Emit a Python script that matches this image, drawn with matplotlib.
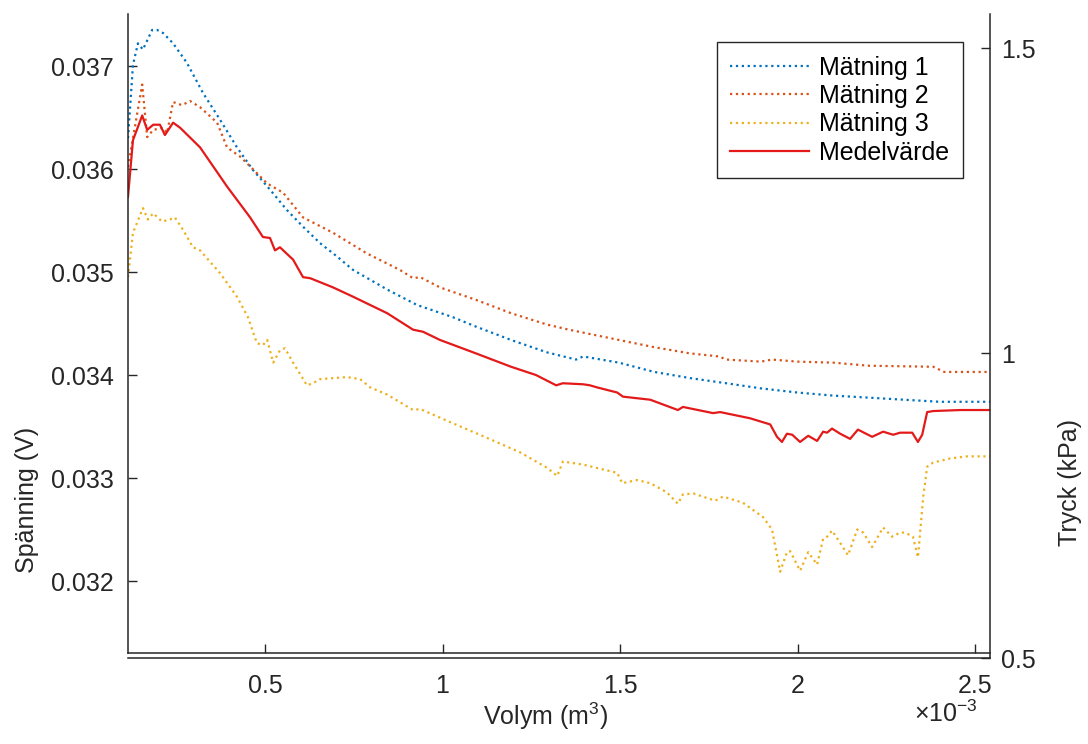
import numpy as np
import matplotlib
matplotlib.use('Agg')
import matplotlib.pyplot as plt

plt.rcParams['font.family'] = ['Liberation Sans', 'DejaVu Sans']
plt.rcParams['mathtext.fontset'] = 'custom'
plt.rcParams['mathtext.rm'] = 'Liberation Sans'
plt.rcParams['mathtext.it'] = 'Liberation Sans:italic'
plt.rcParams['mathtext.bf'] = 'Liberation Sans:bold'

# ---------------- data (volume in 1e-3 m^3, voltage in mV) ----------------
vol_1 = [0.114, 0.128, 0.142, 0.156, 0.182, 0.196, 0.213, 0.241, 0.280, 0.325,
         0.373, 0.421, 0.466, 0.514, 0.562, 0.607, 0.655, 0.703, 0.748, 0.844,
         0.928, 0.945, 1.030, 1.094, 1.193, 1.294, 1.376, 1.396, 1.497, 1.596,
         1.697, 1.799, 1.897, 1.999, 2.100, 2.201, 2.300, 2.401, 2.542]
span_1 = [36.30, 37.01, 37.22, 37.16, 37.35, 37.35, 37.32, 37.22, 37.03, 36.74,
          36.48, 36.21, 35.99, 35.80, 35.60, 35.44, 35.28, 35.15, 35.02, 34.83,
          34.68, 34.66, 34.56, 34.47, 34.34, 34.22, 34.15, 34.18, 34.12, 34.03,
          33.97, 33.92, 33.87, 33.83, 33.80, 33.78, 33.76, 33.74, 33.74]

vol_2 = [0.114, 0.154, 0.168, 0.185, 0.213, 0.224, 0.241, 0.266, 0.289, 0.317,
         0.365, 0.393, 0.430, 0.477, 0.506, 0.551, 0.607, 0.692, 0.787, 0.880,
         0.917, 0.937, 0.993, 1.094, 1.193, 1.294, 1.356, 1.497, 1.596, 1.697,
         1.779, 1.799, 1.897, 1.928, 1.999, 2.100, 2.201, 2.382, 2.413, 2.542]
span_2 = [36.02, 36.82, 36.31, 36.38, 36.40, 36.35, 36.65, 36.62, 36.66, 36.60,
          36.45, 36.21, 36.12, 35.96, 35.86, 35.77, 35.53, 35.38, 35.18, 35.02,
          34.94, 34.95, 34.85, 34.73, 34.60, 34.49, 34.44, 34.34, 34.27, 34.21,
          34.18, 34.15, 34.13, 34.15, 34.13, 34.12, 34.09, 34.08, 34.03, 34.03]

vol_3 = [0.114, 0.128, 0.156, 0.170, 0.185, 0.210, 0.232, 0.246, 0.269, 0.297,
         0.317, 0.373, 0.421, 0.452, 0.477, 0.494, 0.506, 0.523, 0.542, 0.556,
         0.579, 0.604, 0.618, 0.635, 0.655, 0.731, 0.768, 0.796, 0.844, 0.917,
         0.937, 1.030, 1.125, 1.218, 1.294, 1.323, 1.339, 1.396, 1.492, 1.506,
         1.548, 1.585, 1.632, 1.663, 1.677, 1.706, 1.768, 1.790, 1.846, 1.903,
         1.928, 1.951, 1.970, 1.979, 2.007, 2.030, 2.055, 2.072, 2.083, 2.097,
         2.120, 2.142, 2.168, 2.185, 2.210, 2.241, 2.266, 2.289, 2.303, 2.325,
         2.339, 2.354, 2.365, 2.382, 2.430, 2.477, 2.542]
span_3 = [34.95, 35.38, 35.62, 35.51, 35.57, 35.49, 35.51, 35.53, 35.41, 35.24,
          35.21, 34.99, 34.76, 34.56, 34.31, 34.29, 34.34, 34.12, 34.24, 34.26,
          34.12, 33.98, 33.90, 33.92, 33.96, 33.98, 33.96, 33.88, 33.81, 33.66,
          33.67, 33.53, 33.39, 33.25, 33.10, 33.02, 33.16, 33.13, 33.05, 32.95,
          32.98, 32.95, 32.86, 32.75, 32.84, 32.85, 32.78, 32.82, 32.76, 32.62,
          32.50, 32.09, 32.28, 32.29, 32.10, 32.28, 32.16, 32.41, 32.43, 32.49,
          32.37, 32.25, 32.50, 32.47, 32.33, 32.52, 32.43, 32.47, 32.47, 32.43,
          32.23, 32.82, 33.11, 33.15, 33.19, 33.21, 33.21]

vol_m = [0.114, 0.128, 0.154, 0.168, 0.185, 0.204, 0.218, 0.241, 0.261, 0.317,
         0.393, 0.458, 0.494, 0.514, 0.528, 0.542, 0.579, 0.607, 0.627, 0.692,
         0.748, 0.844, 0.917, 0.945, 0.993, 1.094, 1.193, 1.263, 1.320, 1.339,
         1.396, 1.415, 1.435, 1.492, 1.508, 1.585, 1.663, 1.677, 1.762, 1.782,
         1.866, 1.923, 1.942, 1.956, 1.970, 1.985, 2.007, 2.030, 2.055, 2.072,
         2.083, 2.097, 2.120, 2.148, 2.170, 2.210, 2.241, 2.269, 2.289, 2.323,
         2.339, 2.351, 2.365, 2.382, 2.458, 2.542]
span_m = [35.73, 36.28, 36.52, 36.38, 36.43, 36.43, 36.33, 36.45, 36.40, 36.21,
          35.83, 35.53, 35.34, 35.33, 35.21, 35.24, 35.12, 34.95, 34.94, 34.85,
          34.76, 34.60, 34.44, 34.42, 34.34, 34.21, 34.08, 34.00, 33.90, 33.92,
          33.91, 33.90, 33.88, 33.83, 33.79, 33.76, 33.66, 33.69, 33.63, 33.64,
          33.58, 33.52, 33.40, 33.35, 33.43, 33.42, 33.35, 33.41, 33.36, 33.45,
          33.44, 33.48, 33.43, 33.38, 33.47, 33.40, 33.45, 33.42, 33.44, 33.44,
          33.35, 33.42, 33.64, 33.65, 33.66, 33.66]

labels = ['Mätning 1', 'Mätning 2', 'Mätning 3', 'Medelvärde']
x_ticks = [0.5, 1.0, 1.5, 2.0, 2.5]
x_ticklabels = ['0.5', '1', '1.5', '2', '2.5']
y_ticks = [0.032, 0.033, 0.034, 0.035, 0.036, 0.037]
y_ticklabels = ['0.032', '0.033', '0.034', '0.035', '0.036', '0.037']
y2_ticks = [0.5, 1.0, 1.5]
y2_ticklabels = ['0.5', '1', '1.5']

# ---------------- figure ----------------
W, H = 1088, 744
fig = plt.figure(figsize=(W / 100, H / 100), dpi=100)
dark = '#262626'
FS = 18

ax = fig.add_axes([128 / W, 1 - 653 / H, (990 - 128) / W, (653 - 14) / H])
ax2 = fig.add_axes([128 / W, 1 - 658 / H, (990 - 128) / W, (658 - 14) / H])
ax2.patch.set_visible(False)

colors = ['#0072BD', '#D95319', '#EDB120', '#E41A1A']
series = [(vol_1, span_1), (vol_2, span_2), (vol_3, span_3), (vol_m, span_m)]
handles = []
for i, (xv, yv) in enumerate(series):
    ls = '-' if i == 3 else ':'
    h, = ax.plot(np.array(xv), np.array(yv) / 1000.0, ls=ls, lw=1.6,
                 color=colors[i], label=labels[i])
    handles.append(h)

ax.set_xlim(0.114, 2.542)
ax.set_ylim(0.031301, 0.037505)
ax.set_xticks(x_ticks)
ax.set_xticklabels(x_ticklabels)
ax.set_yticks(y_ticks)
ax.set_yticklabels(y_ticklabels)
ax.tick_params(direction='in', length=6.5, width=1.0, colors=dark,
               labelsize=FS)
ax.tick_params(axis='x', pad=15)
ax.tick_params(axis='y', pad=10)
for s in ['top', 'right']:
    ax.spines[s].set_visible(False)
for s in ['left', 'bottom']:
    ax.spines[s].set_color(dark)
    ax.spines[s].set_linewidth(1.1)

ax2.set_xlim(0.114, 2.542)
ax2.set_xticks([])
ax2.set_ylim(0.5, 1.556)
ax2.yaxis.tick_right()
ax2.set_yticks(y2_ticks)
ax2.set_yticklabels(y2_ticklabels)
ax2.tick_params(axis='y', direction='in', length=6.5, width=1.0, colors=dark,
                labelsize=FS, pad=8)
for s in ['top', 'left']:
    ax2.spines[s].set_visible(False)
for s in ['right', 'bottom']:
    ax2.spines[s].set_color(dark)
    ax2.spines[s].set_linewidth(1.1)

leg = ax.legend(handles=handles, loc='upper right',
                bbox_to_anchor=(963 / W, 1 - 42 / H),
                bbox_transform=fig.transFigure, borderaxespad=0,
                fontsize=18, frameon=True, fancybox=False, framealpha=1,
                edgecolor=dark, handlelength=3.15, handletextpad=0.4,
                labelspacing=0.17, borderpad=0.55)
leg.get_frame().set_linewidth(1.0)
for t in leg.get_texts():
    t.set_color('black')

fig.text(27 / W, 1 - 500 / H, 'Spänning (V)', rotation=90, ha='center',
         va='center', fontsize=FS, color=dark)
fig.text(1070 / W, 1 - 482 / H, 'Tryck (kPa)', rotation=90, ha='center',
         va='center', fontsize=FS, color=dark)
fig.text(546 / W, 1 - 716 / H, 'Volym (m$^3$)', ha='center', va='center',
         fontsize=FS, color=dark)
fig.text(978 / W, 1 - 714 / H, r'$\times10^{-3}$', ha='right', va='center',
         fontsize=FS, color=dark)

fig.savefig('out.png', dpi=100)
